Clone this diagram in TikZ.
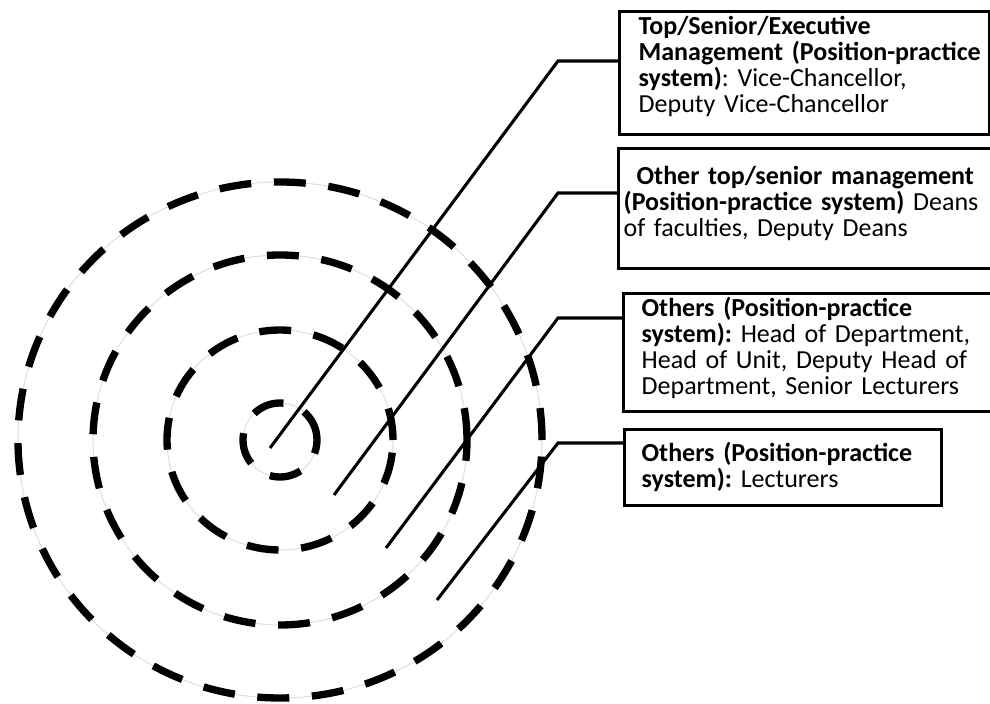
\documentclass[tikz,border=0pt]{standalone}
\usepackage{fontspec}
\setmainfont{Carlito}
\usepackage{tikz}
\usetikzlibrary{positioning, calc}

\begin{document}
\begin{tikzpicture}[x=7.5pt, y=7.5pt,
    every node/.style={font=\fontsize{19.5}{19.5}\selectfont},
    ring/.style={line width=5.5pt, dash pattern=on 24pt off 17pt},
    ringbase/.style={gray!25, line width=0.8pt},
    lead/.style={line width=2.3pt},
    levelbox/.style={draw, line width=2.5pt, anchor=north west, align=left, inner sep=0pt},
    pad/.style={execute at begin node={\frenchspacing\rightskip=0pt plus 1fil\leftskip=#1}}]
  \clip (0, 0) rectangle (99, 70.4);
  % --- rings ---------------------------------------------------------
  \coordinate (c) at (28.0, 26.4);
  \foreach \rx/\ry in {26.2/25.8, 18.7/18.5, 11.3/11.0, 3.7/3.7} {
    \draw[ringbase] (c) ellipse [x radius=\rx, y radius=\ry];
    \draw[ring]     (c) ellipse [x radius=\rx, y radius=\ry];
  }
  % --- level boxes ---------------------------------------------------
  \node[levelbox, pad=14.25pt, text width=277.5pt, text height=17.25pt, text depth=75pt]
    (exec) at (61.8, 69.4)
    {\textbf{Top/Senior/Executive}\\
     \textbf{Management (Position-practice}\\
     \textbf{system)}: Vice-Chancellor,\\
     Deputy Vice-Chancellor};
  \node[levelbox, pad=3.75pt, text width=294.75pt, text height=27pt, text depth=63pt]
    (deans) at (61.7, 55.7)
    {\hspace*{9.75pt}\textbf{Other top/senior management}\\
     \textbf{(Position-practice system)} Deans\\
     of faculties, Deputy Deans};
  \node[levelbox, pad=13.5pt, text width=291pt, text height=17.25pt, text depth=71.25pt]
    (heads) at (62.2, 41.2)
    {\textbf{Others (Position-practice}\\
     \textbf{system):} Head of Department,\\
     Head of Unit, Deputy Head of\\
     Department, Senior Lecturers};
  \node[levelbox, pad=12.75pt, text width=237.75pt, text height=24pt, text depth=33pt]
    (lect) at (62.3, 27.6)
    {\textbf{Others (Position-practice}\\
     \textbf{system):} Lecturers};
  % --- leader lines --------------------------------------------------
  \coordinate (t1) at (27.0, 25.6);  \coordinate (k1) at (55.8, 64.3);
  \coordinate (t2) at (33.4, 20.9);  \coordinate (k2) at (55.8, 51.1);
  \coordinate (t3) at (38.6, 15.6);  \coordinate (k3) at (55.8, 38.6);
  \coordinate (t4) at (43.7, 10.4);  \coordinate (k4) at (55.8, 26.1);
  \draw[lead] (t1) -- (k1) -- (k1 -| exec.west);
  \draw[lead] (t2) -- (k2) -- (k2 -| deans.west);
  \draw[lead] (t3) -- (k3) -- (k3 -| heads.west);
  \draw[lead] (t4) -- (k4) -- (k4 -| lect.west);
\end{tikzpicture}
\end{document}
